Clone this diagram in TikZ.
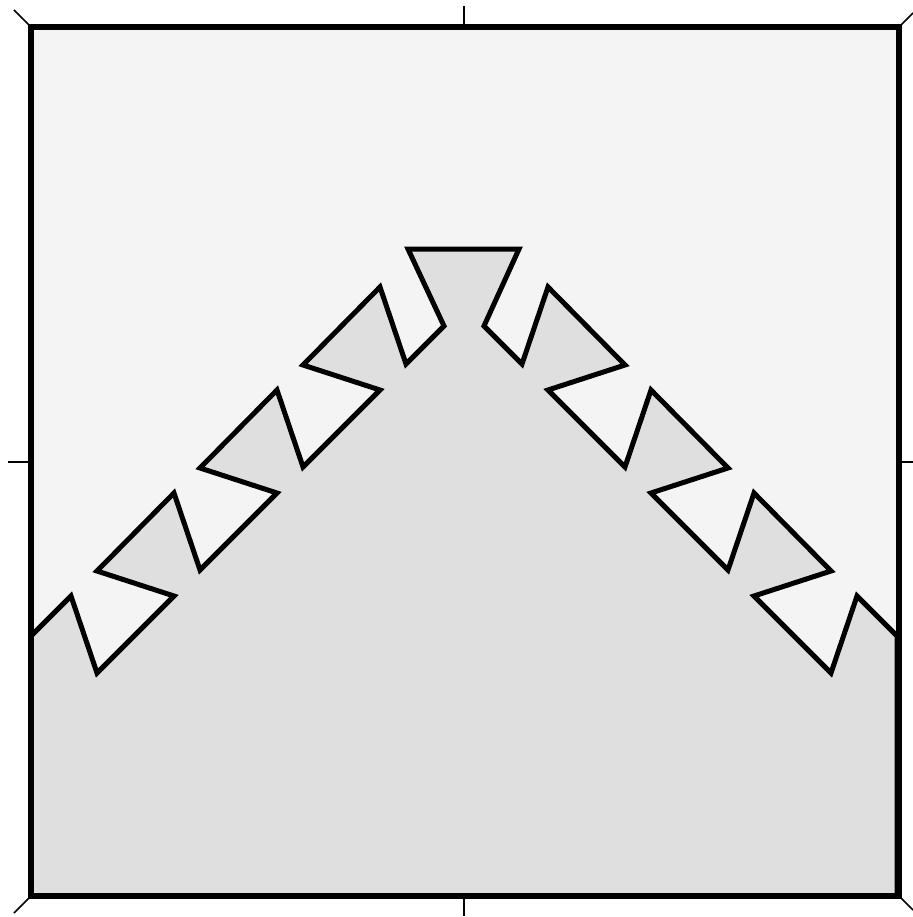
\documentclass[tikz,border=0pt]{standalone}
\definecolor{bgpanel}{HTML}{F4F4F4}
\definecolor{shapefill}{HTML}{DFDFDF}
\tikzset{
  outline/.style={line width=3.75pt, line join=miter, miter limit=10},
  frameline/.style={line width=4.5pt, line join=miter},
  tickline/.style={line width=1.1pt}
}
\begin{document}
\begin{tikzpicture}[x=0.75pt,y=-0.75pt]
\useasboundingbox (0,0) rectangle (913,917);
\fill[bgpanel] (31,27) rectangle (899,896);
\def\zig{(31,636) -- (71,596) -- (97,673) -- (174,596) -- (97,571)
 -- (174,493) -- (200,570) -- (277,493) -- (200,468)
 -- (277,390) -- (303,467) -- (380,390) -- (303,365)
 -- (380,287) -- (406,364) -- (444,326) -- (408,249)
 -- (519,249) -- (484,326) -- (522,364) -- (548,287)
 -- (625,365) -- (548,390) -- (625,467) -- (651,390)
 -- (728,468) -- (651,493) -- (728,570) -- (754,493)
 -- (831,571) -- (754,596) -- (831,673) -- (857,596) -- (897,636)}
\fill[shapefill] \zig -- (899,638) -- (899,896) -- (31,896) -- cycle;
\draw[outline] \zig -- (897,896);
\draw[frameline] (31,27) rectangle (899,896);
% ticks
\coordinate (tc) at (464,27); \coordinate (bc) at (464,896);
\coordinate (lc) at (31,462); \coordinate (rc) at (899,462);
\draw[tickline] (tc) -- ++(0,-21);
\draw[tickline] (bc) -- ++(0,20);
\draw[tickline] (lc) -- ++(-23,0);
\draw[tickline] (rc) -- ++(14,0);
\draw[tickline] (31,27) -- ++(-17,-17);
\draw[tickline] (899,27) -- ++(14,-14);
\draw[tickline] (31,896) -- ++(-17,17);
\draw[tickline] (899,896) -- ++(14,14);
\end{tikzpicture}
\end{document}
